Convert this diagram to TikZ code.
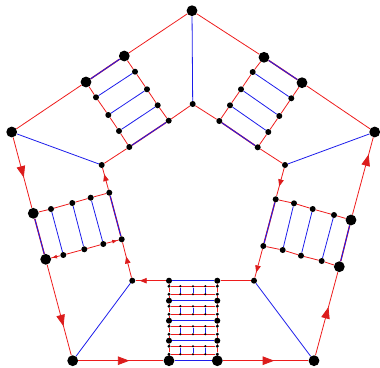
\documentclass[tikz,border=0pt]{standalone}
\usetikzlibrary{arrows.meta,decorations.markings,backgrounds}
\definecolor{rd}{RGB}{238,28,28}
\definecolor{bl}{RGB}{28,28,235}
\definecolor{ar}{RGB}{220,28,28}
\tikzset{
  big/.style={circle,fill=black,inner sep=0pt,minimum size=10.8pt},
  sm/.style={circle,fill=black,inner sep=0pt,minimum size=6pt},
  tiny/.style={circle,fill=black,inner sep=0pt,minimum size=3.4pt},
  mini/.style={circle,fill=black,inner sep=0pt,minimum size=2.4pt},
  redl/.style={draw=rd,line width=0.8pt},
  bluel/.style={draw=bl,line width=0.8pt},
  dblr/.style={draw=rd,line width=1.4pt,postaction={draw=bl,line width=0.9pt}},
  arr/.style={postaction={decorate},decoration={markings,mark=at position #1 with {\arrow[ar]{Triangle[length=11.5pt,width=8.5pt]}}}},
  sarr/.style={postaction={decorate},decoration={markings,mark=at position #1 with {\arrow[ar]{Triangle[length=7pt,width=5.5pt]}}}},
  xarr/.style={postaction={decorate},decoration={markings,mark=at position #1 with {\arrow[ar]{Triangle[length=4.5pt,width=3.5pt]}}}}
}
\begin{document}
\begin{tikzpicture}[x=1pt,y=-1pt]
\useasboundingbox (0,0) rectangle (380,367);
% outer and inner vertices
\node[big] (OT) at (192,10.7) {};
\node[big] (OL) at (11.7,132) {};
\node[big] (OR) at (374.7,132) {};
\node[big] (OBL) at (72.7,360.7) {};
\node[big] (OBR) at (314,360.7) {};
\node[sm] (IT) at (192.7,104) {};
\node[sm] (IL) at (101.7,165) {};
\node[sm] (IR) at (285,165) {};
\node[sm] (IBL) at (132.3,280.7) {};
\node[sm] (IBR) at (254,280.7) {};
% top-left ladder
\node[big] (A1) at (124.3,56) {};
\node[big] (A2) at (86,82) {};
\node[sm] (a1) at (135,71.7) {};
\node[sm] (a2) at (147,89.3) {};
\node[sm] (a3) at (157.7,105.3) {};
\node[sm] (a4) at (168.7,120.7) {};
\node[sm] (b1) at (96,97.3) {};
\node[sm] (b2) at (108.3,115) {};
\node[sm] (b3) at (119,131) {};
\node[sm] (b4) at (129.3,147) {};
% top-right ladder
\node[big] (B1) at (264,57.3) {};
\node[big] (B2) at (302,82.7) {};
\node[sm] (c1) at (252.7,72) {};
\node[sm] (c2) at (241,89.3) {};
\node[sm] (c3) at (230,105.3) {};
\node[sm] (c4) at (219.3,121) {};
\node[sm] (d1) at (291.3,98.3) {};
\node[sm] (d2) at (279.3,116) {};
\node[sm] (d3) at (268.3,132) {};
\node[sm] (d4) at (257.7,147.3) {};
% left ladder
\node[big] (C1) at (33.3,213.3) {};
\node[big] (C2) at (45.7,259.3) {};
\node[sm] (e1) at (51,209) {};
\node[sm] (e2) at (72.3,203) {};
\node[sm] (e3) at (90.7,197.7) {};
\node[sm] (e4) at (109.3,192.7) {};
\node[sm] (f1) at (63.3,255) {};
\node[sm] (f2) at (84.3,249.3) {};
\node[sm] (f3) at (103.3,244) {};
\node[sm] (f4) at (121.7,239.3) {};
% right ladder
\node[big] (D1) at (351,220) {};
\node[big] (D2) at (339.3,266.7) {};
\node[sm] (g0) at (275.7,199.3) {};
\node[sm] (g1) at (294,203.3) {};
\node[sm] (g2) at (312.7,209) {};
\node[sm] (g3) at (334,215) {};
\node[sm] (h0) at (263.3,246) {};
\node[sm] (h1) at (282.7,250) {};
\node[sm] (h2) at (301,255.7) {};
\node[sm] (h3) at (321.7,261) {};
% bottom ladder levels
\node[sm] (V0) at (169,280.7) {};
\node[sm] (W0) at (217.3,280.7) {};
\node[sm] (V1) at (169,300.7) {};
\node[sm] (W1) at (217.3,300.7) {};
\node[sm] (V2) at (169,320.7) {};
\node[sm] (W2) at (217.3,320.7) {};
\node[sm] (V3) at (169,340.7) {};
\node[sm] (W3) at (217.3,340.7) {};
\node[big] (V4) at (169,360.7) {};
\node[big] (W4) at (217.3,360.7) {};
\foreach \k in {0,1,2,3}{
  \pgfmathsetmacro\ya{280.7+20*\k+5.5}
  \pgfmathsetmacro\yb{280.7+20*\k+13.5}
  \node[tiny] (pL\k) at (169,\ya) {};
  \node[tiny] (pR\k) at (217.3,\ya) {};
  \node[tiny] (qL\k) at (169,\yb) {};
  \node[tiny] (qR\k) at (217.3,\yb) {};
  \foreach \j/\xx in {1/180.3,2/193,3/205.3}{
    \node[mini] (u\k\j) at (\xx,\ya) {};
    \node[mini] (v\k\j) at (\xx,\yb) {};
  }
}
\begin{pgfonlayer}{background}
% spokes
\draw[bluel] (OT) -- (IT);
\draw[bluel] (OL) -- (IL);
\draw[bluel] (OR) -- (IR);
\draw[bluel] (OBL) -- (IBL);
\draw[bluel] (OBR) -- (IBR);
% top-left
\draw[redl] (OT) -- (A1);
\draw[redl] (A2) -- (OL);
\draw[dblr] (A1) -- (A2);
\draw[redl] (IT) -- (a4);
\draw[redl] (b4) -- (IL);
\draw[dblr] (a4) -- (b4);
\draw[redl] (A1) -- (a1) -- (a2) -- (a3) -- (a4);
\draw[redl] (A2) -- (b1) -- (b2) -- (b3) -- (b4);
\draw[bluel] (a1) -- (b1);
\draw[bluel] (a2) -- (b2);
\draw[bluel] (a3) -- (b3);
% top-right
\draw[redl] (OT) -- (B1);
\draw[redl] (B2) -- (OR);
\draw[dblr] (B1) -- (B2);
\draw[redl] (IT) -- (c4);
\draw[redl] (d4) -- (IR);
\draw[dblr] (c4) -- (d4);
\draw[redl] (B1) -- (c1) -- (c2) -- (c3) -- (c4);
\draw[redl] (B2) -- (d1) -- (d2) -- (d3) -- (d4);
\draw[bluel] (c1) -- (d1);
\draw[bluel] (c2) -- (d2);
\draw[bluel] (c3) -- (d3);
% left
\draw[redl,arr=0.57] (OL) -- (C1);
\draw[redl,arr=0.68] (C2) -- (OBL);
\draw[dblr] (C1) -- (C2);
\draw[redl,sarr=0.72] (e4) -- (IL);
\draw[redl,sarr=0.6] (IBL) -- (f4);
\draw[dblr] (e4) -- (f4);
\draw[redl] (C1) -- (e1) -- (e2) -- (e3) -- (e4);
\draw[redl] (f3) -- (f2) -- (f1);
\draw[redl,xarr=0.85] (f1) -- (C2);
\draw[redl,xarr=0.85] (f3) -- (f4);
\draw[bluel] (e1) -- (f1);
\draw[bluel] (e2) -- (f2);
\draw[bluel] (e3) -- (f3);
% right
\draw[redl,arr=0.58] (OBR) -- (D2);
\draw[redl,arr=0.78] (D1) -- (OR);
\draw[dblr] (D1) -- (D2);
\draw[redl,sarr=0.65] (IR) -- (g0);
\draw[redl,sarr=0.82] (h0) -- (IBR);
\draw[dblr] (g0) -- (h0);
\draw[redl] (g0) -- (g1) -- (g2) -- (g3) -- (D1);
\draw[redl] (h0) -- (h1) -- (h2) -- (h3) -- (D2);
\draw[bluel] (g1) -- (h1);
\draw[bluel] (g2) -- (h2);
\draw[bluel] (g3) -- (h3);
% bottom
\draw[redl,arr=0.6] (OBL) -- (V4);
\draw[redl,arr=0.6] (W4) -- (OBR);
\draw[dblr] (V4) -- (W4);
\draw[redl] (IBR) -- (W0);
\draw[redl,sarr=0.86] (V0) -- (IBL);
\draw[dblr] (V0) -- (W0);
\draw[bluel] (V1) -- (W1);
\draw[bluel] (V2) -- (W2);
\draw[bluel] (V3) -- (W3);
\foreach \k in {0,1,2,3}{
  \pgfmathtruncatemacro\kk{\k+1}
  \draw[redl] (V\k) -- (pL\k) -- (qL\k) -- (V\kk);
  \draw[redl] (W\k) -- (pR\k) -- (qR\k) -- (W\kk);
  \draw[redl] (pL\k) -- (pR\k);
  \draw[redl] (qL\k) -- (qR\k);
  \foreach \j in {1,2,3}{
    \draw[bluel] (u\k\j) -- (v\k\j);
  }
}
\end{pgfonlayer}
\end{tikzpicture}
\end{document}
